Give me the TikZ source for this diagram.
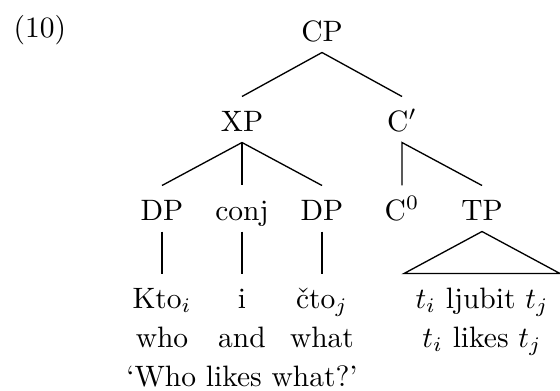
\documentclass[tikz,border=0pt]{standalone}
\begin{document}
\begin{tikzpicture}[x=0.339pt,y=-0.339pt,
  lbl/.style={anchor=base,inner sep=3.7pt,text height=7.8pt,text depth=0pt},
  gloss/.style={anchor=base,inner sep=0pt},
  branch/.style={line width=0.45pt}]
\useasboundingbox (0,0) rectangle (560,390);
% example number
\node[gloss,anchor=base west] (num) at (13,37) {(10)};
% tree labels
\node[lbl] (cp) at (322,41) {CP};
\node[lbl] (xp) at (242,131) {XP};
\node[lbl] (cbar) at (402,131) {C$'$};
\node[lbl] (dpa) at (162,220) {DP};
\node[lbl] (conj) at (242,220) {conj};
\node[lbl] (dpb) at (322,220) {DP};
\node[lbl] (c0) at (402,220) {C$^0$};
\node[lbl] (tp) at (482,220) {TP};
% leaves
\node[lbl] (kto) at (162,308) {Kto$_i$};
\node[lbl] (i) at (242,308) {i};
\node[lbl] (cto) at (322,308) {\v{c}to$_j$};
\node[lbl] (tpleaf) at (482,308) {$t_i$ ljubit $t_j$};
% glosses
\node[gloss] (who) at (162,347) {who};
\node[gloss] (and) at (242,347) {and};
\node[gloss] (what) at (322,347) {what};
\node[gloss] (tpgloss) at (482,347) {$t_i$ likes $t_j$};
\node[gloss] (transl) at (242,386) {`Who likes what?'};
% branches
\draw[branch] (xp.north) -- (cp.south) -- (cbar.north);
\draw[branch] (dpa.north) -- (xp.south) -- (dpb.north);
\draw[branch] (xp.south) -- (conj.north);
\draw[branch] (c0.north) -- (cbar.south) -- (tp.north);
\draw[branch] (dpa.south) -- (kto.north);
\draw[branch] (conj.south) -- (i.north);
\draw[branch] (dpb.south) -- (cto.north);
\draw[branch] (tpleaf.north west) -- (tp.south) -- (tpleaf.north east) -- cycle;
\end{tikzpicture}
\end{document}
